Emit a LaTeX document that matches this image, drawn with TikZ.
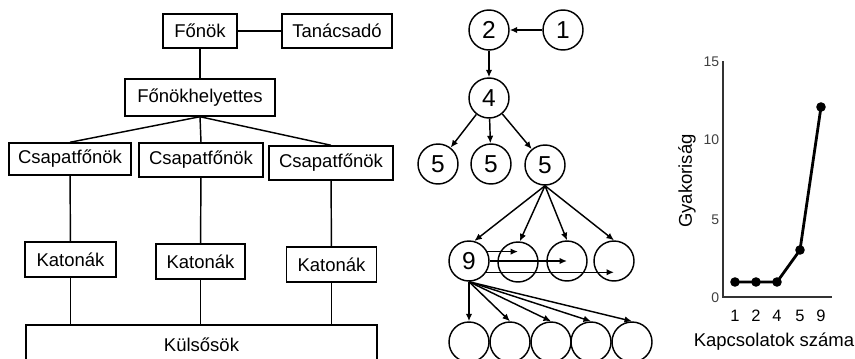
\documentclass[tikz,border=0pt]{standalone}
\usepackage{fontspec}
\setmainfont{Liberation Sans}
\usetikzlibrary{arrows.meta}

\begin{document}
\begin{tikzpicture}
[x=1pt,y=-1pt,line width=1.45pt,>={Latex[length=7.5pt,width=6.5pt]},
	box/.style={draw,inner sep=0pt,minimum height=34pt,font=\fontsize{18.5}{21}\selectfont},
	kor/.style={draw,circle,inner sep=0pt,minimum size=40pt,font=\fontsize{24.5}{27}\selectfont},
	tick/.style={anchor=east,inner sep=0pt,text=black!75,font=\fontsize{14}{16}\selectfont},
	felirat/.style={font=\fontsize{18.5}{21}\selectfont}]
\useasboundingbox (0,0) rectangle (855,359);
\clip (0,0) rectangle (855,359);
\node[box,minimum width=74pt] (fonok) at (200,31) {Főnök};
\node[box,minimum width=110pt] (tanacs) at (337,31) {Tanácsadó};
\node[box,minimum width=150pt,minimum height=37pt] (helyettes) at (200,97.5) {Főnökhelyettes};
\node[box,minimum width=122pt,minimum height=32pt] (csapat1) at (70,159) {Csapatfőnök};
\node[box,minimum width=124pt] (csapat2) at (201,160) {Csapatfőnök};
\node[box,minimum width=124pt] (csapat3) at (331,163) {Csapatfőnök};
\node[box,minimum width=91pt,minimum height=35pt] (katona1) at (70.5,259.5) {Katonák};
\node[box,minimum width=89pt,minimum height=35pt] (katona2) at (200.5,261.5) {Katonák};
\node[box,minimum width=90pt,minimum height=35pt] (katona3) at (331.5,264.5) {Katonák};
\node[box,minimum width=351pt,minimum height=40pt] (kulsok) at (201.5,345) {Külsősök};
\draw (fonok) -- (tanacs);
\draw (fonok) -- (helyettes);
\draw (helyettes.south) -- (csapat1.north);
\draw (helyettes.south) -- (csapat2.north);
\draw (helyettes.south) -- (csapat3.north);
\draw (csapat1) -- (katona1);
\draw (csapat2) -- (katona2);
\draw (csapat3) -- (katona3);
\draw (katona1) -- (katona1 |- kulsok.north);
\draw (katona2) -- (katona2 |- kulsok.north);
\draw (katona3) -- (katona3 |- kulsok.north);

\node[kor] (n2) at (489,30) {2};
\node[kor] (n1) at (563,30) {1};
\node[kor] (n4) at (489,98) {4};
\node[kor] (n5a) at (438,164) {5};
\node[kor] (n5b) at (491,164) {5};
\node[kor] (n5c) at (545,165) {5};
\node[kor] (n9) at (469,261) {9};
\node[kor] (u1) at (518,262) {};
\node[kor] (u2) at (567,261) {};
\node[kor] (u3) at (614,261) {};
\foreach \i/\x in {1/469,2/510,3/551,4/591,5/632}
	\node[kor] (v\i) at (\x,342) {};
\draw[->] (n1) -- (n2);
\draw[->] (n2) -- (n4);
\draw[->] (n4) -- (n5a);
\draw[->] (n4) -- (n5b);
\draw[->] (n4) -- (n5c);
\draw[->] (n5c.south) -- (n9.75);
\draw[->] (n5c.south) -- (u1.85);
\draw[->] (n5c.south) -- (u2.north);
\draw[->] (n5c.south) -- (u3.north);
\draw[->] (n9.27) -- (n9.27 -| u1);
\draw[->] (n9.east) -- (u2.center);
\draw[->] (n9.-33) -- (n9.-33 -| u3);
\foreach \i in {1,...,5}
	\draw[->] (n9.south) -- (v\i.north);

\draw[black!80,line width=1.6pt] (723,61) -- (723,297) -- (832,297);
\foreach \v/\y in {0/298,5/220,10/140,15/62}
	\node[tick] at (720,\y) {\v};
\foreach \k/\x in {1/735,2/756,4/777,5/800,9/821}
	\node[font=\fontsize{16.5}{18}\selectfont] at (\x,316) {\k};
\node[felirat] at (774,342) {Kapcsolatok száma};
\node[felirat,rotate=90] at (687,181) {Gyakoriság};
\draw[line width=2.8pt] (735,282) -- (756,282) -- (777,282) -- (800,250) -- (821,107);
\foreach \x/\y in {735/282,756/282,777/282,800/250,821/107}
	\fill (\x,\y) circle (4.8pt);
\end{tikzpicture}
\end{document}
